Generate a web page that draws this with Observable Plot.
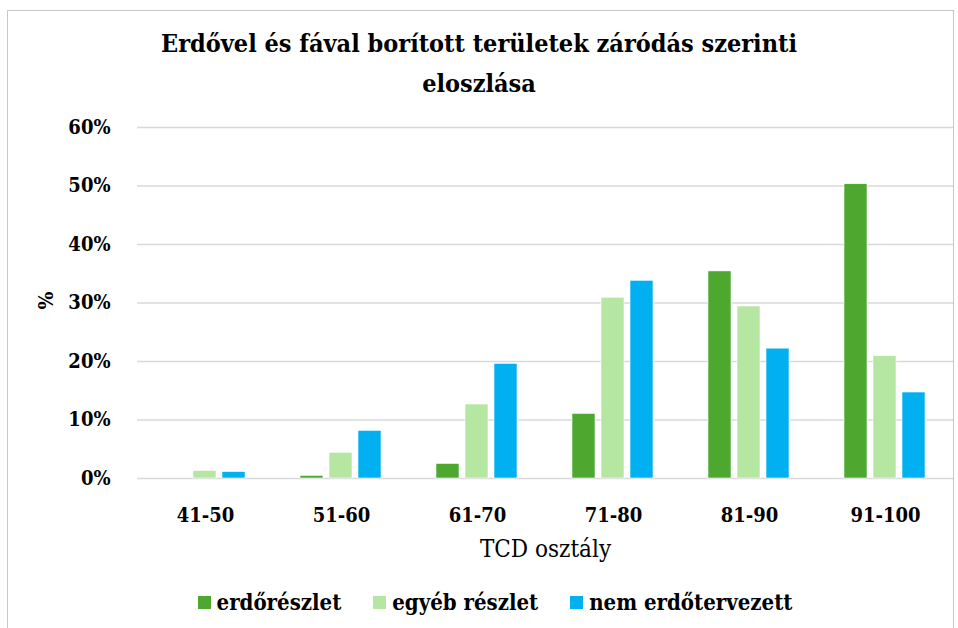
<!DOCTYPE html>
<html>
<head>
<meta charset="utf-8">
<script src="https://cdn.jsdelivr.net/npm/d3@7"></script>
<script src="https://cdn.jsdelivr.net/npm/@observablehq/plot@0.6"></script>
<style>
  html, body { margin: 0; padding: 0; background: #fff; }
  body { width: 958px; height: 628px; position: relative; overflow: hidden; font-family: "DejaVu Serif Condensed", "DejaVu Serif", serif; color: #000; }
  #frame { position: absolute; left: 7px; top: 10px; width: 947px; height: 640px; border: 1.5px solid #c8c8c8; box-sizing: border-box; }
  #title { position: absolute; left: 0; top: 24px; width: 958px; text-align: center; font-size: 25px; font-weight: bold; line-height: 40px; }
  #chart { position: absolute; left: 0; top: 105px; }
  #ylabel { position: absolute; left: 33px; top: 288px; width: 24px; font-size: 21px; font-weight: bold; transform: rotate(-90deg); text-align: center; }
  #legend { position: absolute; left: 0; top: 589px; width: 990px; display: flex; justify-content: center; gap: 32px; font-size: 22px; font-weight: bold; }
  #legend .item { display: flex; align-items: center; gap: 6px; }
  #legend .sw { width: 13px; height: 13px; display: inline-block; }
  #chart svg text { font-family: "DejaVu Serif Condensed", "DejaVu Serif", serif; }
</style>
</head>
<body>
<div id="frame"></div>
<div id="title">Erdővel és fával borított területek záródás szerinti<br>eloszlása</div>
<div id="ylabel">%</div>
<div id="chart"></div>
<div id="legend"></div>
<script>
const categories = ["41-50", "51-60", "61-70", "71-80", "81-90", "91-100"];
const seriesNames = ["erdőrészlet", "egyéb részlet", "nem erdőtervezett"];
const seriesColors = ["#4EA72E", "#B5E6A2", "#00B0F0"];
const erdoreszlet = [0.0, 0.45, 2.5, 11.05, 35.4, 50.3];
const egyebReszlet = [1.3, 4.4, 12.65, 30.9, 29.4, 20.9];
const nemErdotervezett = [1.1, 8.15, 19.6, 33.8, 22.2, 14.7];
const yTicks = [0, 10, 20, 30, 40, 50, 60];

const seriesValues = [erdoreszlet, egyebReszlet, nemErdotervezett];
const data = [];
categories.forEach((c, i) => {
  seriesNames.forEach((s, j) => {
    data.push({cat: c, series: s, value: seriesValues[j][i] / 100});
  });
});

const chart = Plot.plot({
  width: 958,
  height: 465,
  marginLeft: 135,
  marginRight: 4,
  marginTop: 22,
  marginBottom: 92,
  style: {fontFamily: "DejaVu Serif Condensed, DejaVu Serif, serif", fontSize: "20px", fontWeight: "bold", color: "#000", background: "transparent"},
  fx: {domain: categories, padding: 0, label: "TCD osztály", labelAnchor: "center", labelOffset: 78, tickSize: 0, tickPadding: 29},
  x: {domain: seriesNames, axis: null, paddingInner: 0.2, paddingOuter: 0.875},
  y: {domain: [0, 0.6], ticks: yTicks.map(d => d / 100), tickFormat: d3.format(".0%"), tickSize: 0, tickPadding: 27, label: null},
  color: {domain: seriesNames, range: seriesColors},
  marks: [
    Plot.ruleY(yTicks.map(d => d / 100), {stroke: "#d9d9d9", strokeWidth: 1.5}),
    Plot.barY(data, {fx: "cat", x: "series", y: "value", fill: "series", stroke: "#fff", strokeWidth: 0.6})
  ]
});
document.getElementById("chart").appendChild(chart);

chart.querySelectorAll("g[aria-label='fx-axis label'] text, g[aria-label='fx-axis label']").forEach(el => {
  el.style.fontWeight = "normal";
  el.style.fontSize = "24px";
});

const legend = document.getElementById("legend");
seriesNames.forEach((s, j) => {
  const item = document.createElement("span");
  item.className = "item";
  const sw = document.createElement("span");
  sw.className = "sw";
  sw.style.background = seriesColors[j];
  const t = document.createElement("span");
  t.textContent = s;
  item.appendChild(sw);
  item.appendChild(t);
  legend.appendChild(item);
});
</script>
</body>
</html>
